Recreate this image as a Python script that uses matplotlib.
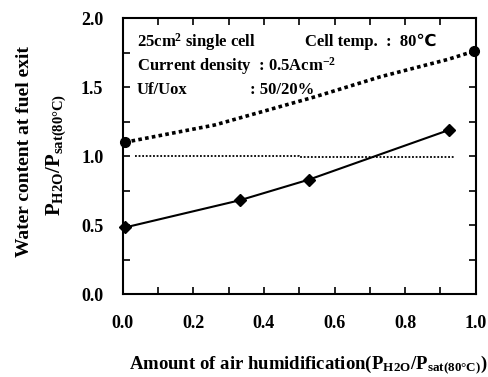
import matplotlib
matplotlib.use("Agg")
import matplotlib.pyplot as plt
from matplotlib.ticker import MultipleLocator, FormatStrFormatter

plt.rcParams['font.family'] = ['Liberation Serif', 'DejaVu Sans']
plt.rcParams['font.weight'] = 'bold'
plt.rcParams['mathtext.fontset'] = 'custom'
plt.rcParams['mathtext.rm'] = 'Liberation Serif:bold'
plt.rcParams['mathtext.bf'] = 'Liberation Serif:bold'
plt.rcParams['mathtext.it'] = 'Liberation Serif:bold'

# data
fuel_x = [0.007, 0.332, 0.528, 0.925]
fuel_y = [0.483, 0.68, 0.83, 1.19]

sat_x = [0.006, 0.26, 0.545, 0.73, 0.92, 0.995]
sat_y = [1.10, 1.225, 1.43, 1.575, 1.70, 1.76]
sat_end_x = [0.006, 0.995]
sat_end_y = [1.10, 1.76]

ref_x = [0.035, 0.50, 0.50, 0.94]
ref_y = [1.00, 1.00, 0.993, 0.993]

fig = plt.figure(figsize=(4.89, 3.77), dpi=100)
ax = fig.add_axes([0.251, 0.220, 0.722, 0.732])

ax.plot(fuel_x, fuel_y, '-', color='black', lw=1.5, marker='D', ms=6.5, clip_on=False, zorder=3)
ax.plot(sat_x, sat_y, color='black', lw=2.6, linestyle=(0, (1.0, 0.9)), clip_on=False, zorder=2)
ax.plot(sat_end_x, sat_end_y, 'o', color='black', ms=7, clip_on=False, zorder=3)
ax.plot(ref_x, ref_y, color='black', lw=1.3, linestyle=(0, (1.0, 1.0)), zorder=2)

ax.set_xlim(0, 1.0)
ax.set_ylim(0, 2.0)
ax.xaxis.set_major_locator(MultipleLocator(0.2))
ax.xaxis.set_minor_locator(MultipleLocator(0.1))
ax.yaxis.set_major_locator(MultipleLocator(0.5))
ax.yaxis.set_minor_locator(MultipleLocator(0.25))
ax.xaxis.set_major_formatter(FormatStrFormatter('%.1f'))
ax.yaxis.set_major_formatter(FormatStrFormatter('%.1f'))
ax.tick_params(which='both', direction='in', top=True, right=True, length=5, width=1.2)
ax.tick_params(axis='x', which='major', pad=15, labelsize=13)
ax.tick_params(axis='y', which='major', pad=14, labelsize=13)
for s in ax.spines.values():
    s.set_linewidth(1.5)

fs = 12
ax.text(0.04, 0.913, r'25cm$^{2}$ single cell', transform=ax.transAxes, fontsize=fs, va='center', ha='left')
ax.text(0.515, 0.913, 'Cell temp.  :  80℃', transform=ax.transAxes, fontsize=fs, va='center', ha='left')
ax.text(0.04, 0.826, r'Current density  : 0.5Acm$^{-2}$', transform=ax.transAxes, fontsize=fs, va='center', ha='left')
ax.text(0.04, 0.739, 'Uf/Uox', transform=ax.transAxes, fontsize=fs, va='center', ha='left')
ax.text(0.36, 0.739, ': 50/20%', transform=ax.transAxes, fontsize=fs, va='center', ha='left')

fig.text(0.05, 0.597, 'Water content at fuel exit', rotation=90, fontsize=14, ha='center', va='center')
fig.text(0.115, 0.59, r'$\mathrm{P_{H2O}/P_{sat(80°C)}}$', rotation=90, fontsize=15, ha='center', va='center')
fig.text(0.63, 0.032, r'Amount of air humidification($\mathrm{P_{H2O}/P_{sat(80°C)}}$)', fontsize=13.5, ha='center', va='center')

fig.savefig('out.png', dpi=100)
